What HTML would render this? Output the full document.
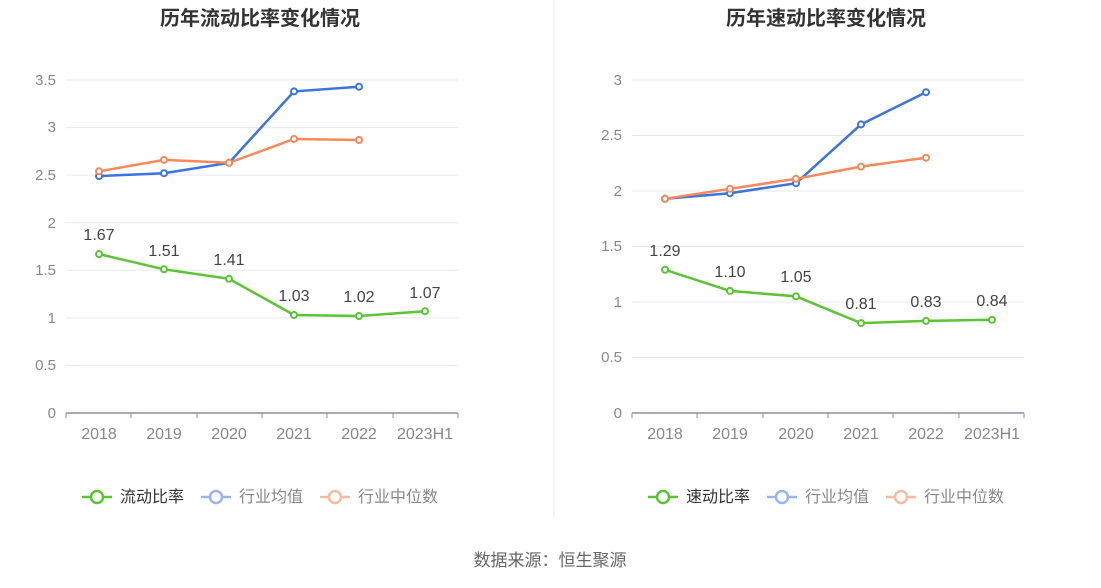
<!DOCTYPE html>
<html><head><meta charset="utf-8"><style>
body{margin:0;background:#fff;}
svg{display:block;font-family:"Liberation Sans","Noto Sans CJK SC",sans-serif;}
</style></head><body>
<svg width="1101" height="588" viewBox="0 0 1101 588">
<line x1="554" y1="0" x2="554" y2="518" stroke="#eee"/>
<text x="260" y="25" text-anchor="middle" font-size="20" font-weight="bold" fill="#333">历年流动比率变化情况</text>
<text x="826" y="25" text-anchor="middle" font-size="20" font-weight="bold" fill="#333">历年速动比率变化情况</text>
<g stroke="#e6e8f0" stroke-width="1">
<line x1="66" x2="458" y1="365.4" y2="365.4"/><line x1="66" x2="458" y1="317.9" y2="317.9"/><line x1="66" x2="458" y1="270.3" y2="270.3"/><line x1="66" x2="458" y1="222.7" y2="222.7"/><line x1="66" x2="458" y1="175.1" y2="175.1"/><line x1="66" x2="458" y1="127.6" y2="127.6"/><line x1="66" x2="458" y1="80" y2="80"/>
<line x1="632" x2="1024" y1="357.5" y2="357.5"/><line x1="632" x2="1024" y1="302" y2="302"/><line x1="632" x2="1024" y1="246.5" y2="246.5"/><line x1="632" x2="1024" y1="191" y2="191"/><line x1="632" x2="1024" y1="135.5" y2="135.5"/><line x1="632" x2="1024" y1="80" y2="80"/>
</g>
<g stroke="#8a8fa3" stroke-width="1.5"><line x1="66" x2="458" y1="413" y2="413"/><line x1="632" x2="1024" y1="413" y2="413"/></g>
<g stroke="#8a8fa3"><line x1="66" x2="66" y1="413" y2="418"/><line x1="131" x2="131" y1="413" y2="418"/><line x1="197" x2="197" y1="413" y2="418"/><line x1="262" x2="262" y1="413" y2="418"/><line x1="327" x2="327" y1="413" y2="418"/><line x1="393" x2="393" y1="413" y2="418"/><line x1="458" x2="458" y1="413" y2="418"/>
<line x1="632" x2="632" y1="413" y2="418"/><line x1="697" x2="697" y1="413" y2="418"/><line x1="763" x2="763" y1="413" y2="418"/><line x1="828" x2="828" y1="413" y2="418"/><line x1="893" x2="893" y1="413" y2="418"/><line x1="959" x2="959" y1="413" y2="418"/><line x1="1024" x2="1024" y1="413" y2="418"/></g>
<g font-size="15" fill="#888" text-anchor="end">
<text x="56" y="418">0</text><text x="56" y="370">0.5</text><text x="56" y="323">1</text><text x="56" y="275">1.5</text><text x="56" y="228">2</text><text x="56" y="180">2.5</text><text x="56" y="132">3</text><text x="56" y="85">3.5</text>
<text x="622" y="418">0</text><text x="622" y="362">0.5</text><text x="622" y="307">1</text><text x="622" y="251">1.5</text><text x="622" y="196">2</text><text x="622" y="140">2.5</text><text x="622" y="85">3</text>
</g>
<g font-size="16" fill="#888" text-anchor="middle">
<text x="99" y="439">2018</text><text x="164" y="439">2019</text><text x="229" y="439">2020</text><text x="294" y="439">2021</text><text x="359" y="439">2022</text><text x="425" y="439">2023H1</text>
<text x="665" y="439">2018</text><text x="730" y="439">2019</text><text x="796" y="439">2020</text><text x="861" y="439">2021</text><text x="926" y="439">2022</text><text x="992" y="439">2023H1</text>
</g>
<g fill="none" stroke-width="2.5">
<polyline stroke="#5ac434" points="99,254.1 164,269.3 229,278.8 294,315 359,316 425,311.2"/>
<polyline stroke="#3b73e0" points="99,176.1 164,173.2 229,162.8 294,91.4 359,86.7"/>
<polyline stroke="#f5895a" points="99,171.3 164,159.9 229,162.8 294,139 359,140"/>
<polyline stroke="#5ac434" points="665,269.8 730,290.9 796,296.4 861,323.1 926,320.9 992,319.8"/>
<polyline stroke="#3b73e0" points="665,198.8 730,193.2 796,183.2 861,124.4 926,92.2"/>
<polyline stroke="#f5895a" points="665,198.8 730,188.8 796,178.8 861,166.6 926,157.7"/>
</g>
<g fill="#fff" stroke-width="2">
<g stroke="#3b73e0"><circle cx="99" cy="176.1" r="3"/><circle cx="164" cy="173.2" r="3"/><circle cx="229" cy="162.8" r="3"/><circle cx="294" cy="91.4" r="3"/><circle cx="359" cy="86.7" r="3"/>
<circle cx="665" cy="198.8" r="3"/><circle cx="730" cy="193.2" r="3"/><circle cx="796" cy="183.2" r="3"/><circle cx="861" cy="124.4" r="3"/><circle cx="926" cy="92.2" r="3"/></g>
<g stroke="#f5895a"><circle cx="99" cy="171.3" r="3"/><circle cx="164" cy="159.9" r="3"/><circle cx="229" cy="162.8" r="3"/><circle cx="294" cy="139" r="3"/><circle cx="359" cy="140" r="3"/>
<circle cx="665" cy="198.8" r="3"/><circle cx="730" cy="188.8" r="3"/><circle cx="796" cy="178.8" r="3"/><circle cx="861" cy="166.6" r="3"/><circle cx="926" cy="157.7" r="3"/></g>
<g stroke="#5ac434"><circle cx="99" cy="254.1" r="3"/><circle cx="164" cy="269.3" r="3"/><circle cx="229" cy="278.8" r="3"/><circle cx="294" cy="315" r="3"/><circle cx="359" cy="316" r="3"/><circle cx="425" cy="311.2" r="3"/>
<circle cx="665" cy="269.8" r="3"/><circle cx="730" cy="290.9" r="3"/><circle cx="796" cy="296.4" r="3"/><circle cx="861" cy="323.1" r="3"/><circle cx="926" cy="320.9" r="3"/><circle cx="992" cy="319.8" r="3"/></g>
</g>
<g font-size="16" fill="#444" text-anchor="middle">
<text x="99" y="240">1.67</text><text x="164" y="256">1.51</text><text x="229" y="265">1.41</text><text x="294" y="301">1.03</text><text x="359" y="302">1.02</text><text x="425" y="298">1.07</text>
<text x="665" y="256">1.29</text><text x="730" y="277">1.10</text><text x="796" y="282">1.05</text><text x="861" y="309">0.81</text><text x="926" y="307">0.83</text><text x="992" y="306">0.84</text>
</g>
<g font-size="16" stroke-width="2.5" fill="#fff">
<line x1="82" x2="112" y1="497" y2="497" stroke="#5ac434"/><circle cx="97" cy="497" r="6" stroke="#5ac434"/><text x="120" y="502" fill="#333" stroke="none">流动比率</text>
<line x1="201" x2="231" y1="497" y2="497" stroke="#9ab5ee"/><circle cx="216" cy="497" r="6" stroke="#9ab5ee"/><text x="239" y="502" fill="#888" stroke="none">行业均值</text>
<line x1="320" x2="350" y1="497" y2="497" stroke="#f9bba0"/><circle cx="335" cy="497" r="6" stroke="#f9bba0"/><text x="358" y="502" fill="#888" stroke="none">行业中位数</text>
<line x1="648" x2="678" y1="497" y2="497" stroke="#5ac434"/><circle cx="663" cy="497" r="6" stroke="#5ac434"/><text x="686" y="502" fill="#333" stroke="none">速动比率</text>
<line x1="767" x2="797" y1="497" y2="497" stroke="#9ab5ee"/><circle cx="782" cy="497" r="6" stroke="#9ab5ee"/><text x="805" y="502" fill="#888" stroke="none">行业均值</text>
<line x1="886" x2="916" y1="497" y2="497" stroke="#f9bba0"/><circle cx="901" cy="497" r="6" stroke="#f9bba0"/><text x="924" y="502" fill="#888" stroke="none">行业中位数</text>
</g>
<text x="550" y="566" text-anchor="middle" font-size="17" fill="#666">数据来源：恒生聚源</text>
</svg>
</body></html>
